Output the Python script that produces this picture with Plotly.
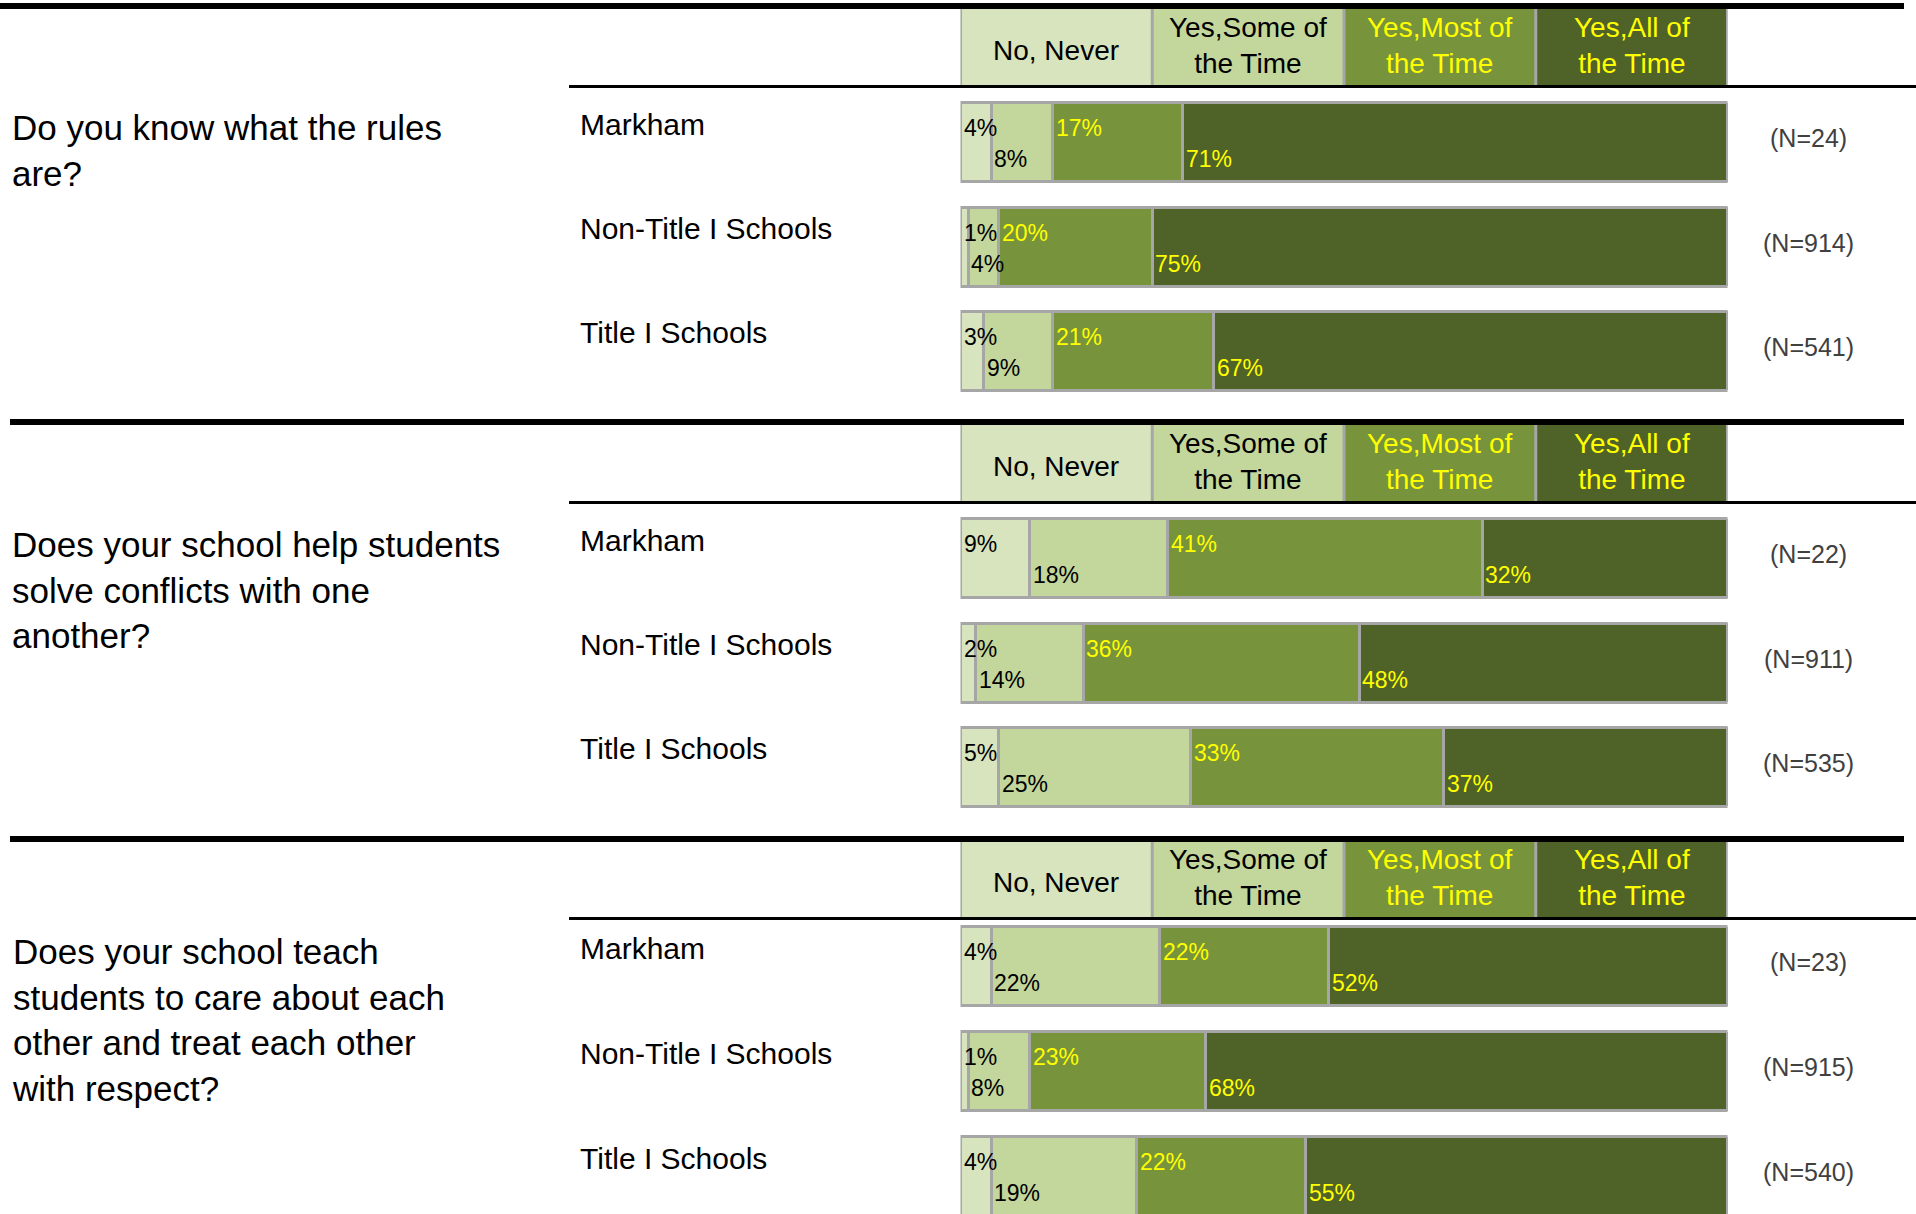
import plotly.graph_objects as go

# ---------------- data ----------------
categories = ["No, Never", "Yes,Some of the Time", "Yes,Most of the Time", "Yes,All of the Time"]
header_labels = ["No, Never", "Yes,Some of<br>the Time", "Yes,Most of<br>the Time", "Yes,All of<br>the Time"]
questions = [
    "Do you know what the rules<br>are?",
    "Does your school help students<br>solve conflicts with one<br>another?",
    "Does your school teach<br>students to care about each<br>other and treat each other<br>with respect?",
]
groups = ["Markham", "Non\u2010Title I Schools", "Title I Schools"]

# per question: Markham, Non-Title I, Title I
no_never = [4, 1, 3, 9, 2, 5, 4, 1, 4]
yes_some = [8, 4, 9, 18, 14, 25, 22, 8, 19]
yes_most = [17, 20, 21, 41, 36, 33, 22, 23, 22]
yes_all = [71, 75, 67, 32, 48, 37, 52, 68, 55]
n_counts = [24, 914, 541, 22, 911, 535, 23, 915, 540]

series = [no_never, yes_some, yes_most, yes_all]

# ---------------- style / layout ----------------
W, H = 1916, 1214
FONT = "Liberation Sans, Arial, Helvetica, sans-serif"
fills = ["#D7E4BD", "#C3D69B", "#77933C", "#4F6228"]
text_colors = ["#000000", "#000000", "#FFFF00", "#FFFF00"]
GRAY = "#A6A6A6"
X0_PX, X1_PX = 960.5, 1727.5

sec_top_line = [6, 422, 839]
sec_top_x0 = [0, 10, 10]
header_top = [9, 425, 842]
header_bot = [85, 501, 917]
header_line = [86.5, 502.5, 918.5]
row_centers = [[142, 246.5, 350.5], [558, 662.5, 766.5], [966, 1071, 1176]]
question_center = [150, 590, 1020]
BAR_H = 79

ys = [y for sec in row_centers for y in sec]

fig = go.Figure()
for i, cat in enumerate(categories):
    fig.add_trace(go.Bar(
        x=series[i], y=ys, orientation="h", name=cat,
        width=[BAR_H] * len(ys),
        marker=dict(color=fills[i], line=dict(color=GRAY, width=3)),
        hoverinfo="skip", showlegend=False,
    ))

annotations = []
shapes = []

# percentage labels
for k, yc in enumerate(ys):
    cum = 0
    for i in range(len(categories)):
        v = series[i][k]
        annotations.append(dict(
            x=cum, y=yc, xref="x", yref="y", text=f"{v}%", showarrow=False,
            xanchor="left", yanchor="middle", xshift=1, yshift=(14 if i % 2 == 0 else -17),
            font=dict(family=FONT, size=23, color=text_colors[i]),
        ))
        cum += v

# group labels and N labels
for k, yc in enumerate(ys):
    annotations.append(dict(
        x=578 / W, y=yc - 18, xref="paper", yref="y", text=groups[k % 3], showarrow=False,
        xanchor="left", yanchor="middle", font=dict(family=FONT, size=30, color="#000000"),
    ))
    annotations.append(dict(
        x=1808 / W, y=yc - 4, xref="paper", yref="y", text=f"(N={n_counts[k]})", showarrow=False,
        xanchor="center", yanchor="middle", font=dict(family=FONT, size=25, color="#404040"),
    ))

ncat = len(categories)
step = 100 / ncat
for s in range(3):
    # question text
    annotations.append(dict(
        x=10 / W, y=question_center[s], xref="paper", yref="y", text=questions[s], showarrow=False,
        xanchor="left", yanchor="middle", align="left",
        font=dict(family=FONT, size=35, color="#000000"),
    ))
    # header cells
    for i in range(ncat):
        shapes.append(dict(type="rect", xref="x", yref="y", x0=i * step, x1=(i + 1) * step,
                           y0=header_top[s], y1=header_bot[s], fillcolor=fills[i],
                           line=dict(width=0), layer="below"))
        annotations.append(dict(
            x=(i + 0.5) * step, y=(header_top[s] + header_bot[s]) / 2 + (3 if i == 0 else -2),
            xref="x", yref="y", text=header_labels[i], showarrow=False,
            xanchor="center", yanchor="middle", align="center",
            font=dict(family=FONT, size=28, color=text_colors[i]),
        ))
    for i in range(ncat + 1):
        shapes.append(dict(type="line", xref="x", yref="y", x0=i * step, x1=i * step,
                           y0=header_top[s], y1=header_bot[s], line=dict(color=GRAY, width=3)))
    # black rules
    shapes.append(dict(type="line", xref="paper", yref="y", x0=sec_top_x0[s] / W, x1=1904 / W,
                       y0=sec_top_line[s], y1=sec_top_line[s], line=dict(color="#000000", width=6)))
    shapes.append(dict(type="line", xref="paper", yref="y", x0=569 / W, x1=1,
                       y0=header_line[s], y1=header_line[s], line=dict(color="#000000", width=3)))

fig.update_layout(
    width=W, height=H, margin=dict(l=0, r=0, t=0, b=0),
    paper_bgcolor="white", plot_bgcolor="white",
    barmode="stack",
    xaxis=dict(range=[0, 100], domain=[X0_PX / W, X1_PX / W], visible=False, fixedrange=True),
    yaxis=dict(range=[H, 0], domain=[0, 1], visible=False, fixedrange=True),
    annotations=annotations, shapes=shapes,
    font=dict(family=FONT),
)

fig.write_html(
    "out.html", include_plotlyjs=True, config={"displayModeBar": False},
    post_script="document.body.style.margin='0';document.body.style.overflow='hidden';",
)
